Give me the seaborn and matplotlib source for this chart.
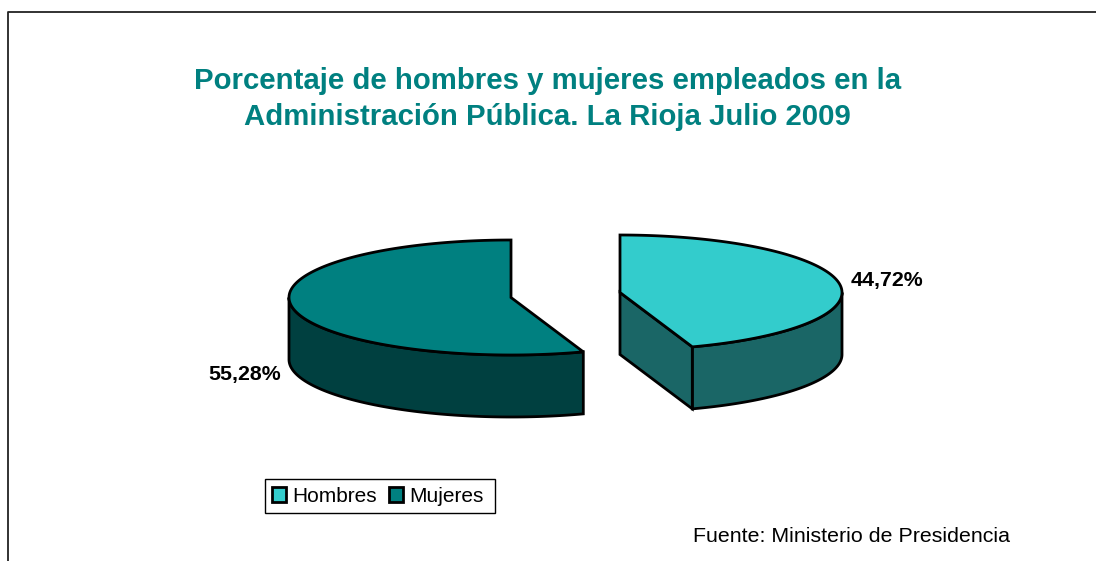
"""

"""

import matplotlib.pyplot as plt
import numpy as np
import pandas as pd
import seaborn as sns
from matplotlib.patches import Patch, Rectangle

sns.set_theme(style="white")
plt.rcParams["font.family"] = ["Liberation Sans", "DejaVu Sans"]

categories = ["Hombres", "Mujeres"]
shares = [44.72, 55.28]
share_labels = ["44,72%", "55,28%"]
top_colors = ["#33CCCC", "#008080"]
side_colors = ["#1A6666", "#004040"]

title = "Porcentaje de hombres y mujeres empleados en la\nAdministración Pública. La Rioja Julio 2009"
source = "Fuente: Ministerio de Presidencia"

RX, RY, DEPTH = 222, 57.5, 62


def ell(cx, cy, angles):
    rad = np.deg2rad(angles)
    return cx + RX * np.cos(rad), cy - RY * np.sin(rad)


def outline(ax, xs, ys, face):
    ax.fill(xs, ys, facecolor=face, edgecolor="black", linewidth=2, joinstyle="miter")


def draw_slice(ax, cx, cy, start, end, top, side, wall_from, wall_to, cut_end=None):
    # outer wall, only the part that faces the viewer
    angles = np.linspace(wall_from, wall_to, 120)
    x, y = ell(cx, cy, angles)
    outline(
        ax,
        np.concatenate([x, x[::-1]]),
        np.concatenate([y, y[::-1] + DEPTH]),
        side,
    )
    # cut face along the radius
    if cut_end is not None:
        tx, ty = ell(cx, cy, cut_end)
        outline(
            ax,
            [cx, tx, tx, cx],
            [cy, ty, ty + DEPTH, cy + DEPTH],
            side,
        )
    angles = np.linspace(start, end, 240)
    x, y = ell(cx, cy, angles)
    outline(ax, np.r_[cx, x], np.r_[cy, y], top)


def main():
    df = pd.DataFrame({"sexo": categories, "pct": shares})
    sweep = df["pct"].to_numpy() / df["pct"].sum() * 360

    fig = plt.figure(figsize=(10.96, 5.61), dpi=100)
    ax = fig.add_axes([0, 0, 1, 1])
    ax.set_xlim(0, 1096)
    ax.set_ylim(561, 0)
    ax.axis("off")

    # hombres goes clockwise from 12 o'clock, mujeres counterclockwise
    h_end = 90 - sweep[0]
    m_end = 90 + sweep[1]
    draw_slice(ax, 620, 292.5, h_end, 90, top_colors[0], side_colors[0], h_end, 0, cut_end=h_end)
    draw_slice(ax, 511, 297.5, 90, m_end, top_colors[1], side_colors[1], 180, m_end)

    ax.plot([7.5, 7.5, 1096], [561, 12, 12], color="#222222", linewidth=1.3)

    ax.text(547.5, 99, title, ha="center", va="center", fontsize=21.15, fontweight="bold",
            color="#008080", linespacing=1.32)
    ax.text(851, 280, share_labels[0], ha="left", va="center", fontsize=15.4, fontweight="bold", color="black")
    ax.text(281, 374, share_labels[1], ha="right", va="center", fontsize=15.4, fontweight="bold", color="black")
    ax.text(693, 537, source, ha="left", va="center", fontsize=15.4, color="black")

    # frame drawn by hand, the legend's own box is narrower than the original one
    ax.add_patch(Rectangle((265, 479), 230, 34, facecolor="white", edgecolor="black", linewidth=1))
    handles = [Patch(facecolor=c, edgecolor="black", linewidth=2) for c in top_colors]
    ax.legend(
        handles,
        categories,
        loc="upper left",
        bbox_to_anchor=(265, 480),
        bbox_transform=ax.transData,
        borderaxespad=0,
        ncol=2,
        fontsize=15,
        labelcolor="black",
        frameon=False,
        handlelength=0.68,
        handleheight=0.68,
        handletextpad=0.32,
        columnspacing=0.55,
        borderpad=0.33,
    )

    fig.savefig("out.png", dpi=100)


if __name__ == "__main__":
    main()
